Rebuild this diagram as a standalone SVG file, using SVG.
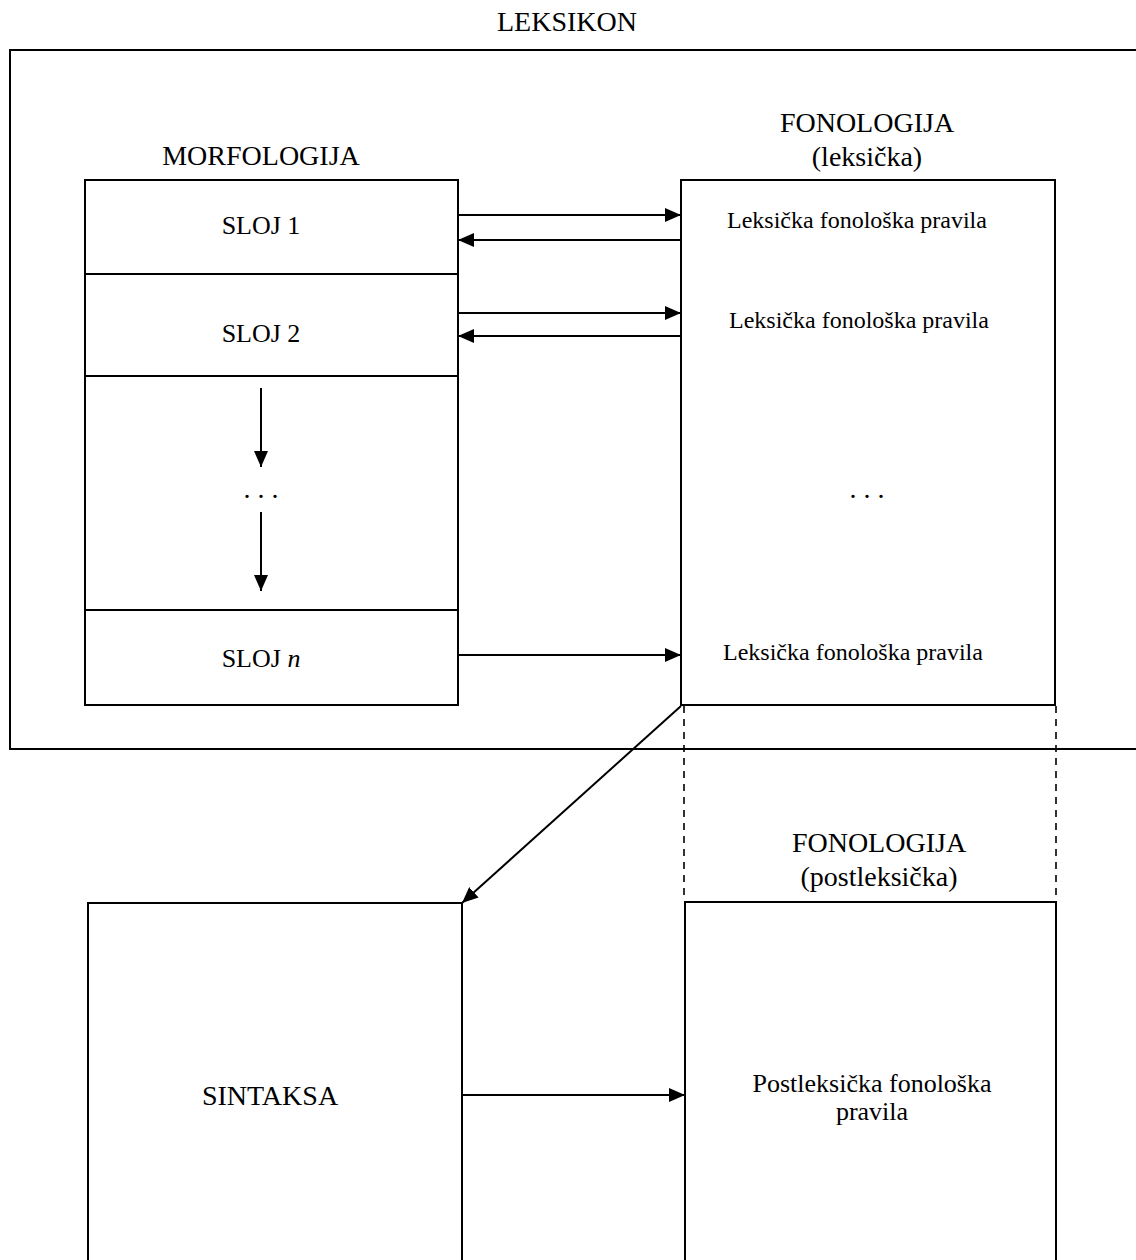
<svg xmlns="http://www.w3.org/2000/svg" width="1136" height="1260" viewBox="0 0 1136 1260">
<style>
text{font-family:"Liberation Serif","Times New Roman",serif;fill:#000;text-anchor:middle}
.h{font-size:28px}
.sl{font-size:26px}
.s{font-size:24px}
.p{font-size:26px}
.box{fill:none;stroke:#000;stroke-width:2}
.ln{fill:none;stroke:#000;stroke-width:2}
.dash{fill:none;stroke:#000;stroke-width:1.6;stroke-dasharray:7 6}
</style>
<defs>
<marker id="ah" viewBox="0 0 16 14" refX="16" refY="7" markerWidth="16" markerHeight="14" markerUnits="userSpaceOnUse" orient="auto">
<path d="M0,0 L16,7 L0,14 Z" fill="#000"/>
</marker>
</defs>
<rect width="1136" height="1260" fill="#fff"/>
<g id="leksikon">
<text class="h" x="567" y="31">LEKSIKON</text>
<rect class="box" x="10" y="50" width="1140" height="699"/>
</g>
<g id="morfologija">
<text class="h" x="261" y="165">MORFOLOGIJA</text>
<rect class="box" x="85" y="180" width="373" height="525"/>
<line class="ln" x1="85" y1="274" x2="458" y2="274"/>
<line class="ln" x1="85" y1="376" x2="458" y2="376"/>
<line class="ln" x1="85" y1="610" x2="458" y2="610"/>
<text class="sl" x="261" y="234">SLOJ 1</text>
<text class="sl" x="261" y="342">SLOJ 2</text>
<text class="sl" x="261" y="667">SLOJ <tspan font-style="italic">n</tspan></text>
<text class="h" x="261" y="498">. . .</text>
</g>
<g id="fonologija-leksicka">
<text class="h" x="867" y="132">FONOLOGIJA</text>
<text class="h" x="867" y="166">(leksička)</text>
<rect class="box" x="681" y="180" width="374" height="525"/>
<text class="s" x="857" y="228">Leksička fonološka pravila</text>
<text class="s" x="859" y="328">Leksička fonološka pravila</text>
<text class="h" x="867" y="498">. . .</text>
<text class="s" x="853" y="660">Leksička fonološka pravila</text>
</g>
<g id="fonologija-postleksicka">
<text class="h" x="879" y="852">FONOLOGIJA</text>
<text class="h" x="879" y="886">(postleksička)</text>
<rect class="box" x="685" y="902" width="371" height="400"/>
<text class="p" x="872" y="1092">Postleksička fonološka</text>
<text class="p" x="872" y="1120">pravila</text>
</g>
<g id="sintaksa">
<rect class="box" x="88" y="903" width="374" height="400"/>
<text class="h" x="270" y="1105">SINTAKSA</text>
</g>
<g id="connectors">
<line class="ln" x1="458" y1="215" x2="681" y2="215" marker-end="url(#ah)"/>
<line class="ln" x1="681" y1="240" x2="458" y2="240" marker-end="url(#ah)"/>
<line class="ln" x1="458" y1="313" x2="681" y2="313" marker-end="url(#ah)"/>
<line class="ln" x1="681" y1="336" x2="458" y2="336" marker-end="url(#ah)"/>
<line class="ln" x1="458" y1="655" x2="681" y2="655" marker-end="url(#ah)"/>
<line class="ln" x1="261" y1="388" x2="261" y2="467" marker-end="url(#ah)"/>
<line class="ln" x1="261" y1="512" x2="261" y2="591" marker-end="url(#ah)"/>
<line class="ln" x1="681" y1="706" x2="462" y2="903" marker-end="url(#ah)"/>
<line class="ln" x1="462" y1="1095" x2="685" y2="1095" marker-end="url(#ah)"/>
<line class="dash" x1="684" y1="706" x2="684" y2="901"/>
<line class="dash" x1="1056" y1="706" x2="1056" y2="901"/>
</g>
</svg>
